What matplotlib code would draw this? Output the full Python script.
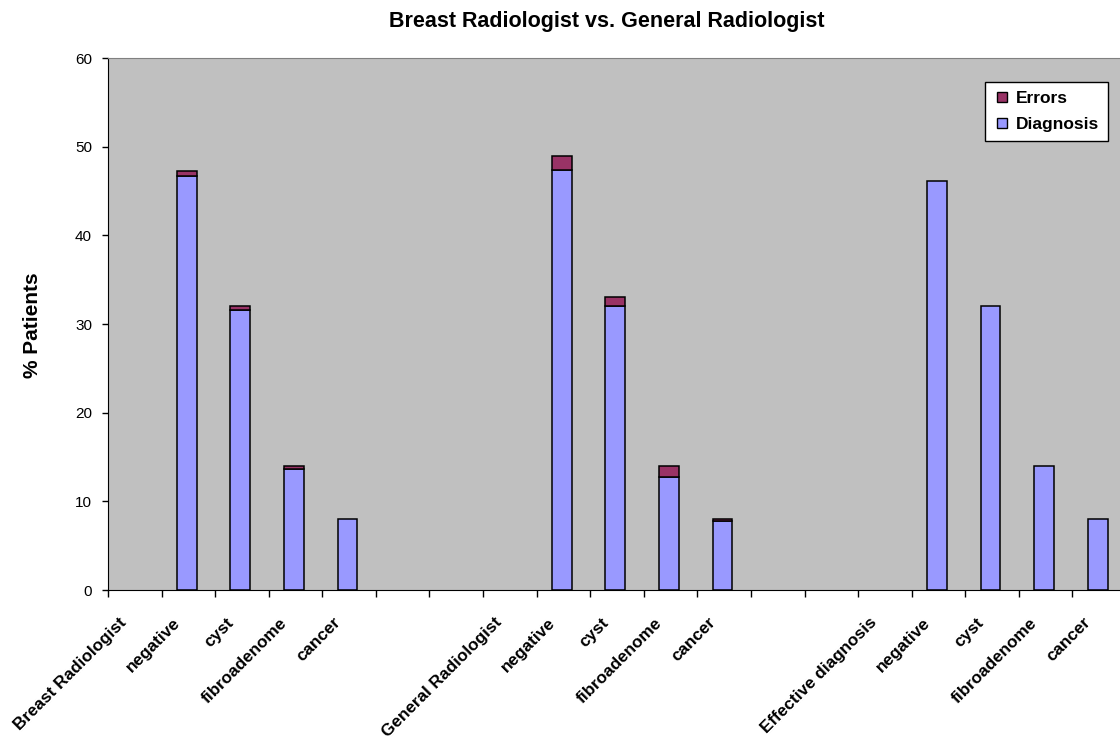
import matplotlib
matplotlib.use("Agg")
import matplotlib.pyplot as plt
import matplotlib.transforms as mtransforms
from matplotlib.lines import Line2D
import numpy as np

plt.rcParams["font.family"] = ["Liberation Sans", "DejaVu Sans"]

categories = [
    "Breast Radiologist", "negative", "cyst", "fibroadenome", "cancer", "", "",
    "General Radiologist", "negative", "cyst", "fibroadenome", "cancer", "", "",
    "Effective diagnosis", "negative", "cyst", "fibroadenome", "cancer",
]
diagnosis = [
    0, 46.7, 31.6, 13.7, 8.0, 0, 0,
    0, 47.4, 32.0, 12.8, 7.8, 0, 0,
    0, 46.1, 32.0, 14.0, 8.0,
]
errors = [
    0, 0.6, 0.4, 0.25, 0.0, 0, 0,
    0, 1.6, 1.1, 1.2, 0.2, 0, 0,
    0, 0, 0, 0, 0,
]

DIAG_COLOR = "#9999FF"
ERR_COLOR = "#993366"
BG_COLOR = "#C0C0C0"

W, H = 1120, 739
fig = plt.figure(figsize=(W / 100, H / 100), dpi=100)
left, right, top, bottom = 108, 1126, 58, 590
ax = fig.add_axes([left / W, 1 - bottom / H, (right - left) / W, (bottom - top) / H])
ax.set_facecolor(BG_COLOR)

x = np.arange(len(categories))
diag = np.array(diagnosis)
err = np.array(errors)
mask = diag > 0
ax.bar(x[mask] - 0.03, diag[mask], width=0.37, color=DIAG_COLOR, edgecolor="black",
       linewidth=1.1, zorder=2)
emask = err > 0
ax.bar(x[emask] - 0.03, err[emask], bottom=diag[emask], width=0.37, color=ERR_COLOR,
       edgecolor="black", linewidth=1.1, zorder=2)

ax.set_xlim(-0.5, len(categories) - 0.5)
ax.set_ylim(0, 60)
ax.set_yticks(np.arange(0, 61, 10))
ax.tick_params(axis="y", direction="out", length=4.5, width=1, labelsize=11, pad=7)

ax.set_xticks(np.arange(-0.5, len(categories), 1.0))
ax.set_xticklabels([])
ax.tick_params(axis="x", which="major", direction="out", length=5, width=1)
ax.set_xticks(x, minor=True)
ax.set_xticklabels(categories, minor=True, rotation=45, ha="right", va="top",
                   rotation_mode="anchor", fontsize=12.3, fontweight="bold")
ax.tick_params(axis="x", which="minor", length=0, pad=18)
shift = mtransforms.ScaledTranslation(-16 / 100, 0, fig.dpi_scale_trans)
for lab in ax.get_xticklabels(minor=True):
    lab.set_transform(lab.get_transform() + shift)

for side in ["top", "right"]:
    ax.spines[side].set_color("#808080")
for side in ["left", "bottom"]:
    ax.spines[side].set_color("black")

fig.text(33 / W, 1 - 325 / H, "% Patients", rotation=90, ha="center", va="center",
         fontsize=15, fontweight="bold")

handles = [
    Line2D([], [], linestyle="none", marker="s", markersize=7,
           markerfacecolor=ERR_COLOR, markeredgecolor="black", markeredgewidth=1),
    Line2D([], [], linestyle="none", marker="s", markersize=7,
           markerfacecolor=DIAG_COLOR, markeredgecolor="black", markeredgewidth=1),
]
leg = ax.legend(handles, ["Errors", "Diagnosis"], loc="upper right",
                bbox_to_anchor=((1108 - left) / (right - left), (bottom - 82) / (bottom - top)),
                borderaxespad=0, fancybox=False, edgecolor="black", framealpha=1,
                handlelength=1.0, handletextpad=0.3, borderpad=0.5,
                labelspacing=0.65, prop={"weight": "bold", "size": 12.5})
leg.get_frame().set_linewidth(1)

fig.text(607 / W, 1 - 21 / H, "Breast Radiologist vs. General Radiologist",
         ha="center", va="center", fontsize=15.5, fontweight="bold")

fig.savefig("out.png", dpi=100)
